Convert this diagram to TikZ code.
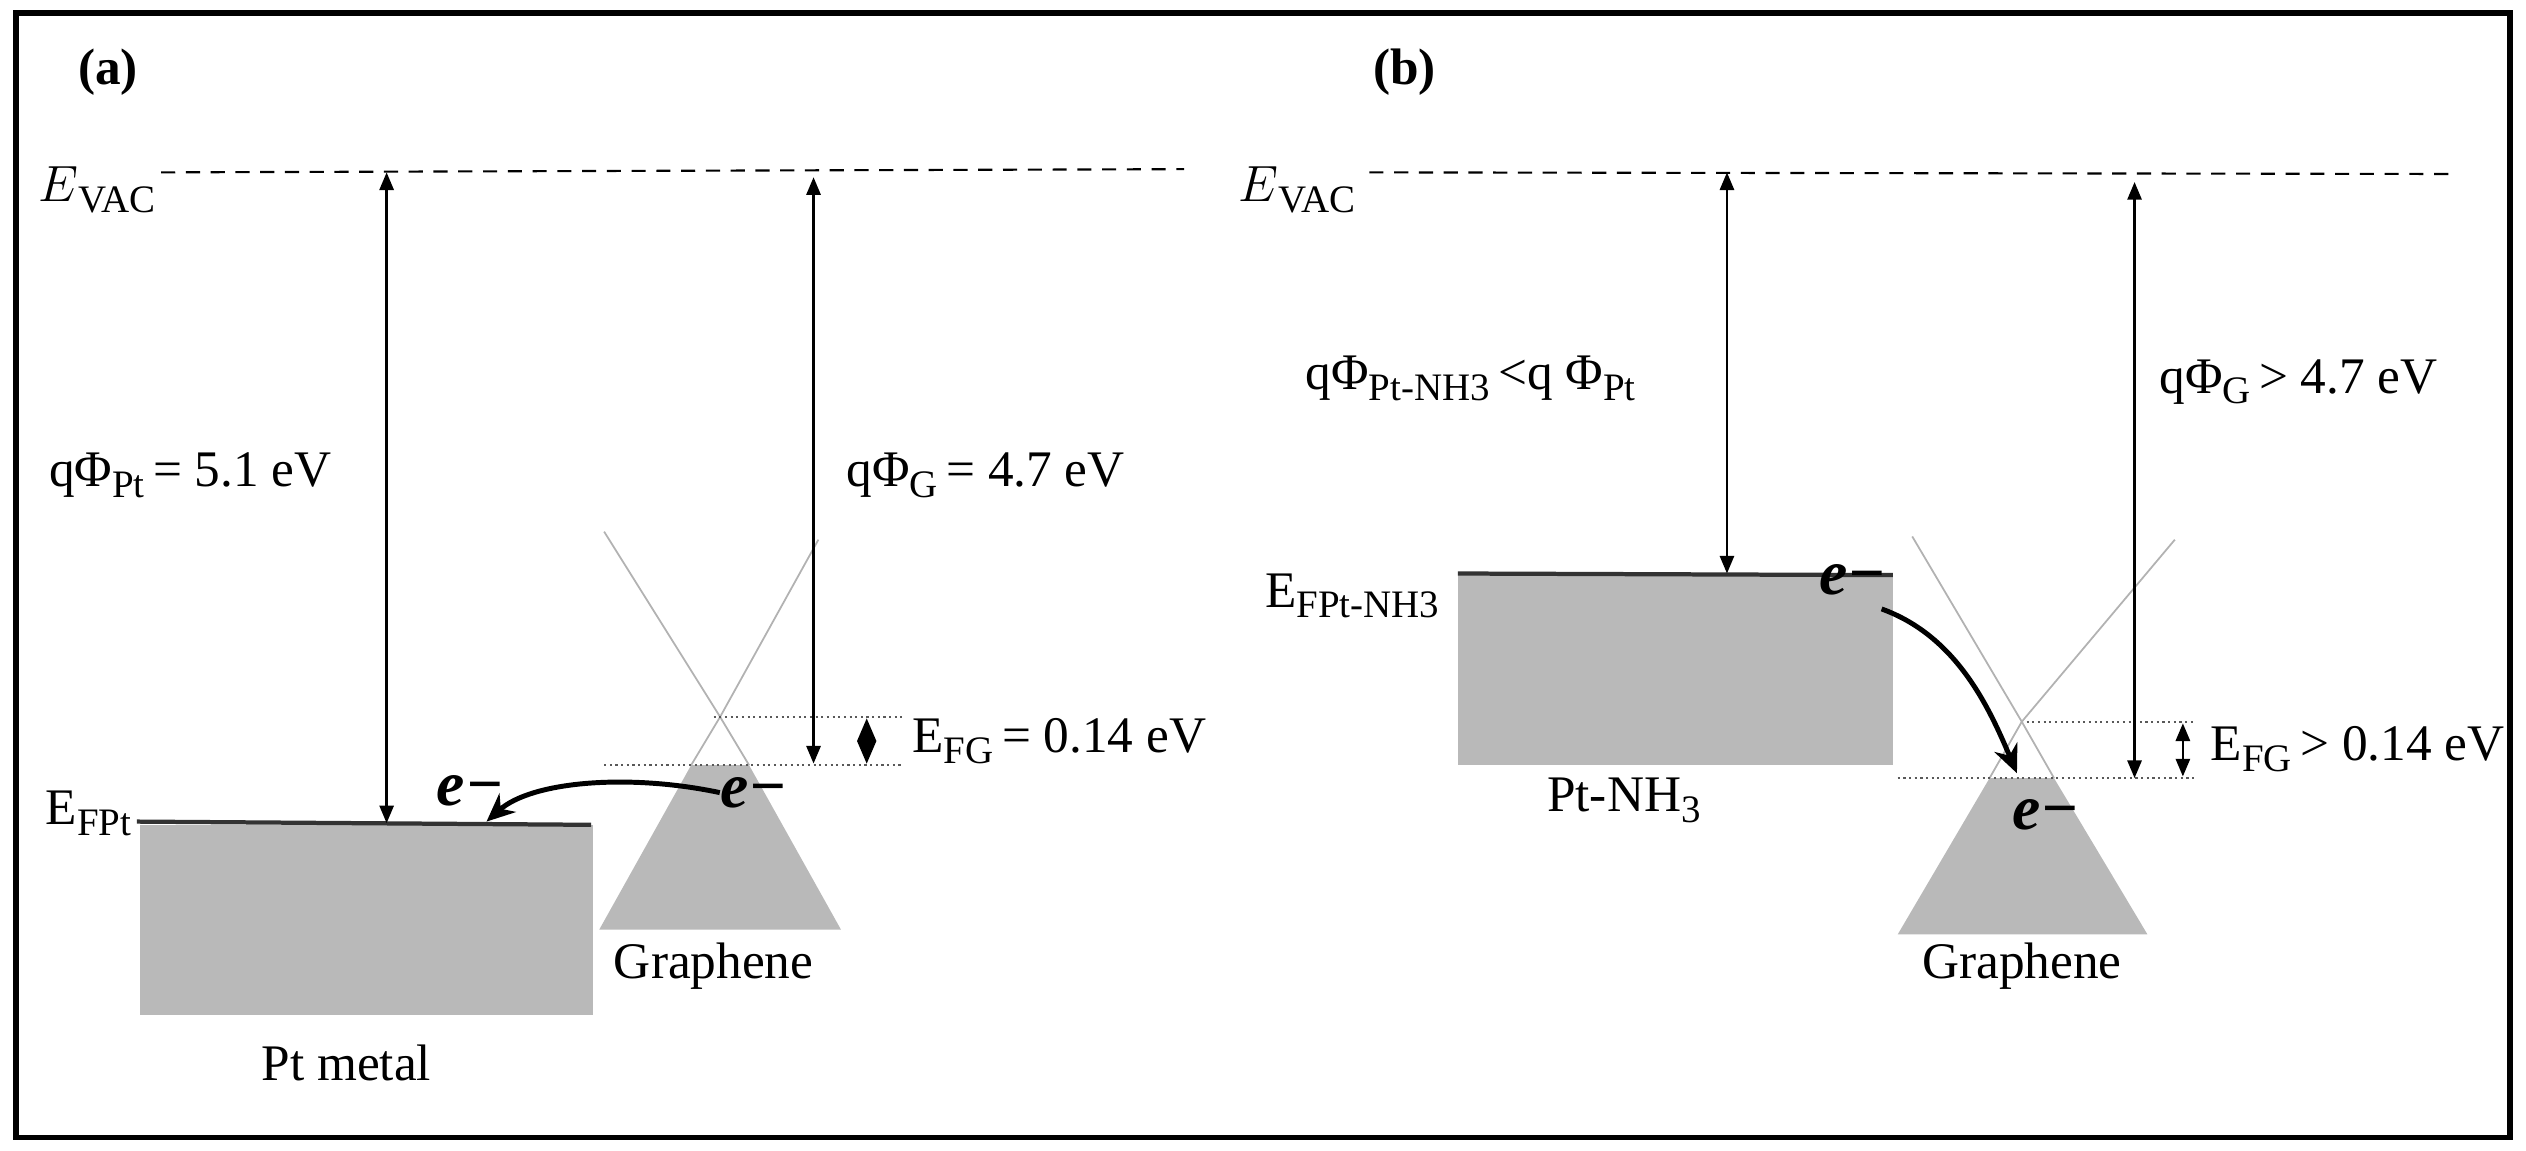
\documentclass[tikz,border=0pt]{standalone}
\usepackage{fontspec}
\setmainfont{Liberation Serif}
\usetikzlibrary{arrows.meta}
\newcommand{\sbs}[1]{\raisebox{-0.45ex}{\fontsize{11}{13}\selectfont #1}}
\begin{document}
\fontsize{14.5}{17}\selectfont
\begin{tikzpicture}[x=0.016cm,y=-0.016cm,
  lbl/.style={inner sep=0pt,anchor=west},
  dbl/.style={{Triangle[length=5pt,width=4pt]}-{Triangle[length=5pt,width=4pt]},line width=0.7pt},
  vac/.style={dashed,line width=0.6pt,dash pattern=on 4pt off 3pt},
  dot/.style={densely dotted,line width=0.6pt,gray!70!black},
  cone/.style={gray!60,line width=0.5pt},
  band/.style={fill=gray!55,draw=none},
  el/.style={font=\bfseries\itshape\fontsize{18}{20}\selectfont,inner sep=0pt}]
\useasboundingbox (0,0) rectangle (1568,714);
\draw[line width=1.6pt] (10,8) rectangle (1558,706);
\node[lbl,font=\bfseries] (la) at (48,45) {(a)};
\node[lbl,font=\bfseries] (lb) at (852,45) {(b)};
% ---------- panel (a)
\coordinate (va1) at (100,107); \coordinate (va2) at (735,105);
\draw[vac] (va1) -- (va2);
\node[inner sep=0pt,anchor=east] (evA) at (97,118) {$E$\sbs{VAC}};
\node[band] (pt) at (227.5,571) [minimum width=281*0.016cm,minimum height=118*0.016cm] {};
\coordinate (ptl) at (85,510); \coordinate (ptr) at (367,512);
\draw[line width=1.2pt,black!80] (ptl) -- (ptr);
\node[lbl] (efpt) at (28,505) {E\sbs{FPt}};
\coordinate (a1t) at (240,107); \coordinate (a1b) at (240,511);
\draw[dbl] (a1t) -- (a1b);
\node[lbl] (qpt) at (30,295) {qΦ\sbs{Pt}\,= 5.1 eV};
% graphene cone
\coordinate (gA) at (447,445);
\fill[gray!55] (372,577) -- (429,475) -- (465,475) -- (522,577) -- cycle;
\draw[cone] (375,330) -- (gA) -- (465,475);
\draw[cone] (508,335) -- (gA) -- (429,475);
\draw[dot] (443,445) -- (560,445);
\draw[dot] (375,475) -- (560,475);
\coordinate (a2t) at (505,110); \coordinate (a2b) at (505,474);
\draw[dbl] (a2t) -- (a2b);
\coordinate (d1) at (538,446); \coordinate (d2) at (538,474);
\fill (d1) -- (544,460) -- (d2) -- (532,460) -- cycle;
\node[lbl] (qg) at (525,295) {qΦ\sbs{G}\,= 4.7 eV};
\node[lbl] (efg) at (566,460) {E\sbs{FG}\,= 0.14 eV};
\node[el] (e1) at (292,491) {e−};
\node[el] (e2) at (468,492) {e−};
\draw[-{Stealth[length=8pt,width=7pt]},line width=1.4pt] (e2.west) .. controls (390,480) and (330,485) .. (302,510);
\node (gr1) at (443,600) {Graphene};
\node (ptm) at (215,660) {Pt metal};
% ---------- panel (b)
\coordinate (vb1) at (850,107); \coordinate (vb2) at (1520,108);
\draw[vac] (vb1) -- (vb2);
\node[inner sep=0pt,anchor=east] (evB) at (842,118) {$E$\sbs{VAC}};
\node[band] (pnh) at (1040,416) [minimum width=270*0.016cm,minimum height=118*0.016cm] {};
\coordinate (pnl) at (905,356); \coordinate (pnr) at (1175,357);
\draw[line width=1.2pt,black!80] (pnl) -- (pnr);
\node[lbl] (efpn) at (785,370) {E\sbs{FPt-NH3}};
\coordinate (b1t) at (1072,107); \coordinate (b1b) at (1072,356);
\draw[dbl] (b1t) -- (b1b);
\node[lbl] (qpn) at (810,235) {qΦ\sbs{Pt-NH3}\,<q Φ\sbs{Pt}};
\coordinate (gB) at (1255,448);
\fill[gray!55] (1178,580) -- (1235,483) -- (1275,483) -- (1333,580) -- cycle;
\draw[cone] (1187,333) -- (gB) -- (1275,483);
\draw[cone] (1350,335) -- (gB) -- (1235,483);
\draw[dot] (1258,448) -- (1362,448);
\draw[dot] (1178,483) -- (1362,483);
\coordinate (b2t) at (1325,113); \coordinate (b2b) at (1325,483);
\draw[dbl] (b2t) -- (b2b);
\coordinate (d3) at (1355,449); \coordinate (d4) at (1355,482);
\draw[dbl] (d3) -- (d4);
\node[lbl] (qgb) at (1340,237) {qΦ\sbs{G}\,> 4.7 eV};
\node[lbl] (efgb) at (1372,465) {E\sbs{FG}\,> 0.14 eV};
\node[el] (e3) at (1150,360) {e−};
\node[el] (e4) at (1270,506) {e−};
\draw[-{Stealth[length=8pt,width=7pt]},line width=1.4pt] (1168,378) .. controls (1215,395) and (1235,440) .. (1252,480);
\node (gr2) at (1255,600) {Graphene};
\node (ptn) at (1008,497) {Pt-NH\sbs{3}};
\end{tikzpicture}
\end{document}
